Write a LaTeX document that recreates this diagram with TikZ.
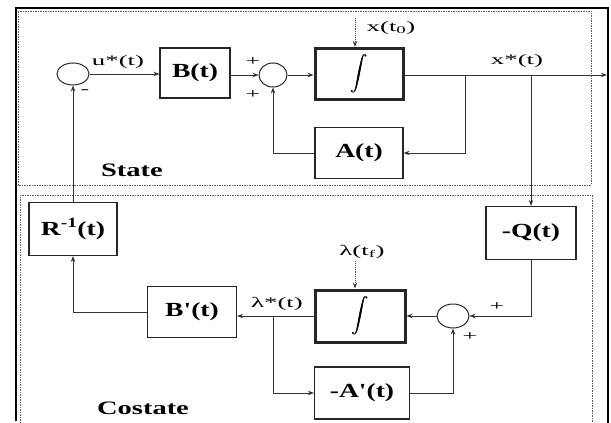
\documentclass[tikz,border=0pt]{standalone}
\usepackage{amsmath}
\usepackage{fontspec}
\setmainfont{Liberation Serif}
\newfontfamily\boxfont{Liberation Serif}[FakeStretch=1.38]
\newfontfamily\labfont{Liberation Serif}[FakeStretch=1.85]
\newfontfamily\titfont{Liberation Serif}[FakeStretch=1.5]
\newcommand{\heavyint}{\rlap{$\displaystyle\int$}\kern0.6pt$\displaystyle\int$}
\usetikzlibrary{shapes.geometric,arrows.meta}
\begin{document}
\begin{tikzpicture}[x=1pt,y=-1pt,
  blk/.style={draw=black!85,line width=1.1pt,rectangle,minimum width=88pt,minimum height=51pt,inner sep=0pt,font=\boxfont\bfseries\fontsize{20}{22}\selectfont},
  intg/.style={blk,line width=3pt,font=\fontsize{17}{20}\selectfont},
  sumj/.style={draw=black!85,line width=1pt,ellipse,minimum width=30pt,minimum height=23pt,inner sep=0pt},
  sig/.style={draw=black!80,line width=0.9pt},
  arr/.style={sig,-{Stealth[length=6pt,width=4.5pt]}},
  initarr/.style={draw=black!75,line width=0.9pt,densely dotted,-{Stealth[length=6pt,width=4.5pt]}},
  lab/.style={font=\labfont\fontsize{14.5}{16}\selectfont,inner sep=1pt},
  sgn/.style={font=\labfont\fontsize{14}{14}\selectfont,inner sep=0pt},
  region/.style={draw=black!65,line width=0.9pt,dash pattern=on 1.5pt off 1pt},
  title/.style={font=\titfont\bfseries\fontsize{19}{21}\selectfont}
]
\useasboundingbox (0,0) rectangle (611,423);
% outer frame
\draw[black,line width=1.8pt] (16,421) -- (16,8) -- (608,8) -- (608,423);
% region boxes
\draw[region] (18,11) rectangle (591,185);
\draw[region] (20,423) -- (20,195) -- (592,195) -- (592,423);

% state blocks
\node[sumj,minimum width=32pt,minimum height=22pt] (s1) at (73,74) {};
\node[blk,minimum width=70pt,minimum height=50pt] (B) at (195,73) {B(t)};
\node[sumj,minimum width=28pt,minimum height=24pt] (s2) at (273,75) {};
\node[intg] (I1) at (359,74) {\heavyint};
\node[blk] (A) at (359,153) {A(t)};

% costate blocks
\node[blk,minimum width=90pt,minimum height=53pt] (Q) at (531,233) {-Q(t)};
\node[sumj,minimum width=32pt,minimum height=24pt] (s3) at (453,316) {};
\node[intg,minimum width=90pt,minimum height=52pt] (I2) at (360,316) {\heavyint};
\node[blk,minimum width=89pt] (Bp) at (192,312) {B'(t)};
\node[blk,minimum width=95pt,minimum height=52pt] (Ap) at (362,393) {-A'(t)};
\node[blk,minimum width=88pt,minimum height=53pt] (R) at (73,229) {R\textsuperscript{-1}(t)};

% coordinates
\coordinate (out) at (607,75);
\coordinate (j1) at (465,75);
\coordinate (j2) at (531,75);
\coordinate (j3) at (273,316);
\coordinate (x0) at (355,18);
\coordinate (lf) at (355,261);

% state connections
\draw[arr] (s1.east) -- (B.west |- s1.east);
\draw[arr] (B.east |- s2.west) -- (s2.west);
\draw[arr] (s2.east) -- (I1.west |- s2.east);
\draw[arr] (I1.east |- out) -- (out);
\draw[arr] (j1) |- (A.east);
\draw[arr] (A.west) -| (s2.south);
\draw[initarr] (x0) -- (x0 |- I1.north);

% costate connections
\draw[arr] (j2) -- (Q.north);
\draw[arr] (Q.south) |- (s3.east);
\draw[arr] (s3.west) -- (I2.east |- s3.west);
\draw[arr] (I2.west) -- (I2.west -| Bp.east);
\draw[arr] (j3) |- (Ap.west);
\draw[arr] (Ap.east) -| (s3.south);
\draw[arr] (Bp.west) -| (R.south);
\draw[arr] (R.north) -- (s1.south);
\draw[initarr] (lf) -- (lf |- I2.north);

% labels
\node[lab] (lu) at (118,62) {u*(t)};
\node[lab] (lx) at (517,61) {x*(t)};
\node[lab] (lx0) at (391,28) {x(t\textsubscript{0})};
\node[lab] (ll) at (277,304) {λ*(t)};
\node[lab] (llf) at (362,252) {λ(t\textsubscript{f})};
\node[sgn] (m1) at (85,92) {-};
\node[sgn] (p1) at (253,62) {+};
\node[sgn] (p2) at (253,95) {+};
\node[sgn] (p3) at (497,307) {+};
\node[sgn] (p4) at (470,337) {+};
\node[title] (st) at (132,170) {State};
\node[title] (cs) at (143,408) {Costate};
\end{tikzpicture}
\end{document}
